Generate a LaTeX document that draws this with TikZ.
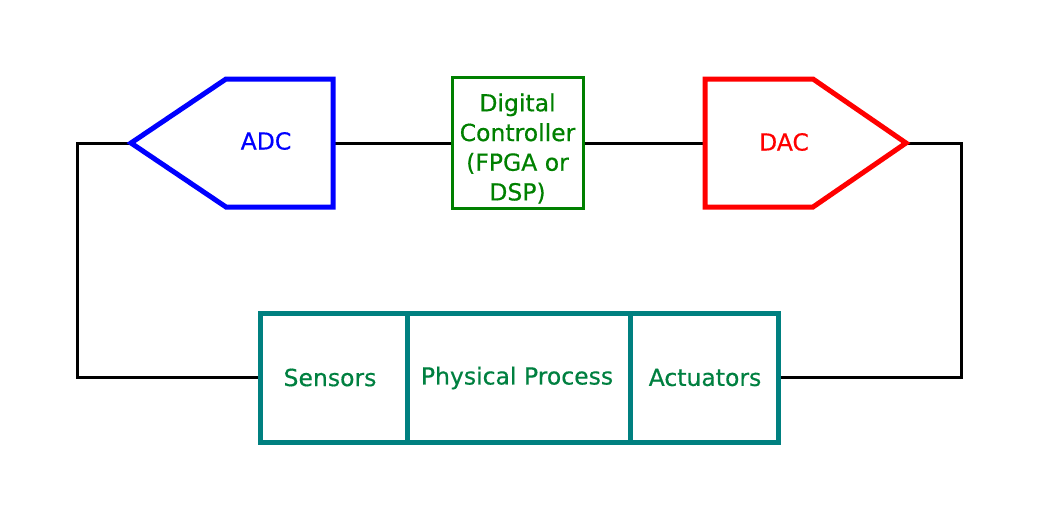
\documentclass[tikz,border=0pt]{standalone}
\usepackage{fontspec}
\setmainfont{DejaVu Sans}
\newfontfamily\lblfont[FakeBold=0.5]{DejaVu Sans}
\usetikzlibrary{positioning}
\definecolor{ctrlgreen}{RGB}{0,128,0}
\definecolor{boxteal}{RGB}{0,128,128}
\definecolor{procgreen}{RGB}{0,128,64}
\begin{document}
\begin{tikzpicture}[x=1pt,y=-1pt,line join=miter,
  wire/.style={line width=3pt},
  conv/.style={line width=5pt},
  lbl/.style={font=\lblfont\fontsize{23.5}{29.7}\selectfont},
  plant/.style={draw=boxteal,line width=5pt,minimum height=129pt,inner sep=0pt,lbl,text=procgreen}]
\useasboundingbox (0,0) rectangle (1039,522);
% converters
\coordinate (adcin) at (131,143);
\coordinate (adcout) at (333,143);
\coordinate (dacin) at (705,143);
\coordinate (dacout) at (906,143);
\coordinate (lturn) at (77,143);
\coordinate (rturn) at (961,143);
% controller and plant
\node[draw=ctrlgreen,line width=3pt,minimum width=131pt,minimum height=131pt,inner sep=0pt] (ctrl) at (517.5,142.5) {};
\node[align=center,lbl,text=ctrlgreen] (ctrltext) at ([yshift=-6pt]ctrl.center) {Digital\\Controller\\(FPGA or\\DSP)};
\node[plant,minimum width=147pt] (sens) at (333.5,377.5) {};
\node[plant,minimum width=223pt] (phys) at (518.5,377.5) {};
\node[plant,minimum width=148pt] (act) at (704,377.5) {};
\node[lbl,text=procgreen] (senstext) at (330,377.5) {Sensors};
\node[lbl,text=procgreen] (phystext) at (517,378) {Physical Process};
\node[lbl,text=procgreen] (acttext) at (705,377.5) {Actuators};
% wires
\draw[wire] (sens.west) -| (lturn) -- (adcin);
\draw[wire] (act.east) -| (rturn) -- (dacout);
\draw[wire] (adcout) -- (adcout -| ctrl.west);
\draw[wire] (dacin -| ctrl.east) -- (dacin);
% ADC and DAC
\draw[conv,blue] (adcin) -- (226,79) -- (333,79) -- (333,207) -- (226,207) -- cycle;
\node[lbl,text=blue] (adc) at (266,141) {ADC};
\draw[conv,red] (dacin |- 0,79) -- (813,79) -- (dacout) -- (813,207) -- (705,207) -- cycle;
\node[lbl,text=red] (dac) at (784,142) {DAC};
\end{tikzpicture}
\end{document}
